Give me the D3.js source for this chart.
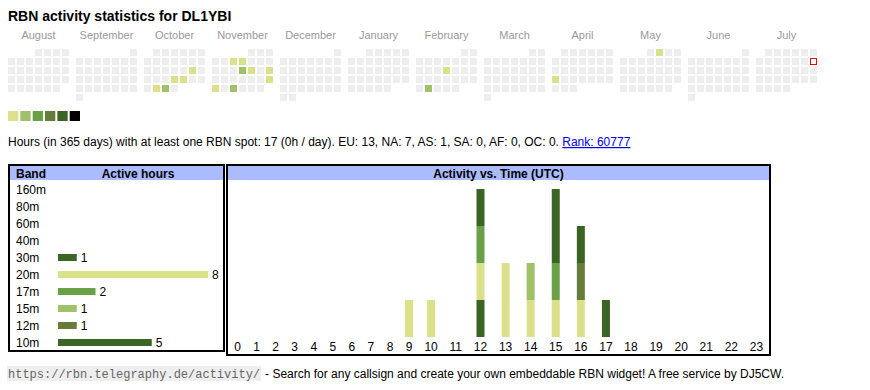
<!DOCTYPE html>
<html>
<head>
<meta charset="utf-8">
<script src="https://cdn.jsdelivr.net/npm/d3@7"></script>
<style>
  html, body { margin: 0; padding: 0; background: #fff; }
  svg { display: block; }
  text { font-family: Arial, "Liberation Sans", sans-serif; }
</style>
</head>
<body>
<svg id="chart" width="870" height="390"></svg>
<script>
// ---------------- DATA ----------------
const titleText = "RBN activity statistics for DL1YBI";
const monthLabels = ["August","September","October","November","December","January","February","March","April","May","June","July"];
const firstMonth = "2024-08-01";
const todayDate = "2025-07-13";
// active days in calendar and their level (1..6)
const activeDates  = ["2024-10-19","2024-10-24","2024-10-25","2024-10-29","2024-10-30",
                      "2024-11-06","2024-11-07","2024-11-14","2024-11-15","2024-11-17",
                      "2024-11-24","2024-11-25","2024-11-27",
                      "2025-02-13","2025-02-25","2025-04-21","2025-05-02"];
const activeLevels = [1,1,1,1,2, 1,1,2,1,1, 1,1,2, 1,2,1,1];
const legendLevels = [1,2,3,4,5,6];

const summaryText = "Hours (in 365 days) with at least one RBN spot: 17 (0h / day). EU: 13, NA: 7, AS: 1, SA: 0, AF: 0, OC: 0. ";
const rankText = "Rank: 60777";

const bands = ["160m","80m","60m","40m","30m","20m","17m","15m","12m","10m"];
const bandHours = [0,0,0,0,1,8,2,1,1,5];

const hourLabels = ["0","1","2","3","4","5","6","7","8","9","10","11","12","13","14","15","16","17","18","19","20","21","22","23"];
// activity per hour (UTC) for each band with spots
const act30m = [0,0,0,0,0,0,0,0,0,0,0,0,1,0,0,0,0,0,0,0,0,0,0,0];
const act20m = [0,0,0,0,0,0,0,0,0,1,1,0,1,2,1,1,1,0,0,0,0,0,0,0];
const act17m = [0,0,0,0,0,0,0,0,0,0,0,0,1,0,0,1,0,0,0,0,0,0,0,0];
const act15m = [0,0,0,0,0,0,0,0,0,0,0,0,0,0,1,0,0,0,0,0,0,0,0,0];
const act12m = [0,0,0,0,0,0,0,0,0,0,0,0,0,0,0,0,1,0,0,0,0,0,0,0];
const act10m = [0,0,0,0,0,0,0,0,0,0,0,0,1,0,0,2,1,1,0,0,0,0,0,0];

const footerCode = "https://rbn.telegraphy.de/activity/";
const footerText = "- Search for any callsign and create your own embeddable RBN widget! A free service by DJ5CW.";

// ---------------- STYLE ----------------
const palette = ["#dbe18b","#9ec16a","#6aa147","#687c3a","#3b6525","#000000"];
const bandColor = d3.scaleOrdinal()
  .domain(["30m","20m","17m","15m","12m","10m"])
  .range([palette[4], palette[0], palette[2], palette[1], palette[3], palette[4]]);
const levelColor = d3.scaleOrdinal().domain(legendLevels).range(palette);
const headerBlue = "#aabbff";

const svg = d3.select("#chart");
const parse = d3.timeParse("%Y-%m-%d");
const fmt = d3.timeFormat("%Y-%m-%d");

// ---------------- TITLE ----------------
svg.append("text").attr("x", 8).attr("y", 21)
  .attr("font-size", 14).attr("font-weight", "bold").attr("fill", "#000")
  .text(titleText);

// ---------------- CALENDAR ----------------
const start = parse(firstMonth);
const months = d3.timeMonth.range(start, d3.timeMonth.offset(start, 12));
const xMonth = d3.scaleBand().domain(d3.range(12)).range([8, 817]).paddingInner(7/68);
const xDay = d3.scaleBand().domain(d3.range(7)).range([0, 61]).paddingInner(2/9);
const yWeek = d3.scaleBand().domain(d3.range(6)).range([49, 101]).paddingInner(2/9);
const activeMap = new Map(activeDates.map((d, i) => [d, activeLevels[i]]));

const cal = svg.append("g");
months.forEach((m, i) => {
  cal.append("text")
    .attr("x", xMonth(i) + xMonth.bandwidth() / 2).attr("y", 39)
    .attr("text-anchor", "middle").attr("font-size", 11).attr("fill", "#999")
    .text(monthLabels[i]);
  const days = d3.timeDay.range(m, d3.timeMonth.offset(m, 1));
  cal.selectAll(null).data(days).enter().append("rect")
    .attr("x", d => xMonth(i) + xDay((d.getDay() + 6) % 7))
    .attr("y", d => yWeek(d3.timeMonday.count(m, d)))
    .attr("width", xDay.bandwidth()).attr("height", yWeek.bandwidth())
    .attr("fill", d => activeMap.has(fmt(d)) ? levelColor(activeMap.get(fmt(d))) : "#eeeeee");
});
// today marker
const today = parse(todayDate);
const tm = d3.timeMonth.floor(today);
const ti = months.findIndex(m => +m === +tm);
cal.append("rect")
  .attr("x", xMonth(ti) + xDay((today.getDay() + 6) % 7) + 0.5)
  .attr("y", yWeek(d3.timeMonday.count(tm, today)) + 0.5)
  .attr("width", xDay.bandwidth() - 1).attr("height", yWeek.bandwidth() - 1)
  .attr("fill", "#fff").attr("stroke", "#ff0000").attr("stroke-width", 1);

// legend
const xLeg = d3.scaleBand().domain(legendLevels).range([8, 80]).paddingInner(2/12);
svg.selectAll(null).data(legendLevels).enter().append("rect")
  .attr("x", d => xLeg(d)).attr("y", 111)
  .attr("width", xLeg.bandwidth()).attr("height", 10)
  .attr("fill", d => levelColor(d));

// summary line
const sum = svg.append("text").attr("x", 8).attr("y", 146).attr("font-size", 12).attr("fill", "#000")
  .style("white-space", "pre");
sum.append("tspan").text(summaryText);
sum.append("tspan").attr("fill", "#0000ee").attr("text-decoration", "underline").text(rankText);

// ---------------- BAND TABLE ----------------
const bt = svg.append("g");
bt.append("rect").attr("x", 10).attr("y", 166).attr("width", 213).attr("height", 14).attr("fill", headerBlue);
bt.append("rect").attr("x", 9).attr("y", 165).attr("width", 215).attr("height", 186)
  .attr("fill", "none").attr("stroke", "#000").attr("stroke-width", 2);
bt.append("text").attr("x", 16).attr("y", 177.5).attr("font-size", 12).attr("font-weight", "bold").text("Band");
bt.append("text").attr("x", 138).attr("y", 177.5).attr("font-size", 12).attr("font-weight", "bold")
  .attr("text-anchor", "middle").text("Active hours");

const yBand = d3.scaleBand().domain(bands).range([181, 351]);
const xHours = d3.scaleLinear().domain([0, d3.max(bandHours)]).range([0, 150]);
const rows = bt.selectAll(null).data(bands).enter().append("g")
  .attr("transform", b => `translate(0,${yBand(b) + yBand.bandwidth() / 2})`);
rows.append("text").attr("x", 16).attr("y", 4.3).attr("font-size", 12).text(b => b);
rows.filter((b, i) => bandHours[i] > 0).append("rect")
  .attr("x", 58).attr("y", -3.5).attr("height", 7)
  .attr("width", b => xHours(bandHours[bands.indexOf(b)]))
  .attr("fill", b => bandColor(b));
rows.filter((b, i) => bandHours[i] > 0).append("text")
  .attr("x", b => 58 + xHours(bandHours[bands.indexOf(b)]) + 4).attr("y", 4.3)
  .attr("font-size", 12).text(b => bandHours[bands.indexOf(b)]);

// ---------------- ACTIVITY VS TIME ----------------
const at = svg.append("g");
at.append("rect").attr("x", 228).attr("y", 166).attr("width", 541).attr("height", 14).attr("fill", headerBlue);
at.append("rect").attr("x", 227).attr("y", 165).attr("width", 543).attr("height", 190)
  .attr("fill", "none").attr("stroke", "#000").attr("stroke-width", 2);
at.append("text").attr("x", 498.5).attr("y", 177.5).attr("font-size", 12).attr("font-weight", "bold")
  .attr("text-anchor", "middle").text("Activity vs. Time (UTC)");

// table-like column widths: text width + padding, fitted to inner width
const meas = svg.append("text").attr("font-size", 12);
const widths = hourLabels.map(l => { meas.text(l); return meas.node().getComputedTextLength() + 14.4; });
meas.remove();
const totalW = d3.sum(widths);
const k = 541 / totalW;
const centers = [];
let acc = 228;
widths.forEach(w => { centers.push(acc + w * k / 2); acc += w * k; });
const xHour = d3.scaleOrdinal().domain(hourLabels).range(centers);

const yAct = d3.scaleLinear().domain([0, 4]).range([337, 189]);
const table = hourLabels.map((h, i) => ({
  hour: h, "30m": act30m[i], "20m": act20m[i], "17m": act17m[i],
  "15m": act15m[i], "12m": act12m[i], "10m": act10m[i]
}));
const stack = d3.stack().keys(["30m","20m","17m","15m","12m","10m"])(table);
at.selectAll(null).data(stack).enter().append("g")
  .attr("fill", s => bandColor(s.key))
  .selectAll("rect").data(s => s.filter(d => d[1] > d[0])).enter().append("rect")
  .attr("x", d => xHour(d.data.hour) - 4).attr("width", 8)
  .attr("y", d => yAct(d[1])).attr("height", d => yAct(d[0]) - yAct(d[1]));

at.selectAll(null).data(hourLabels).enter().append("text")
  .attr("x", h => xHour(h)).attr("y", 351).attr("text-anchor", "middle")
  .attr("font-size", 12).text(h => h);

// ---------------- FOOTER ----------------
const codeBg = svg.append("rect").attr("x", 7).attr("y", 366).attr("height", 15).attr("fill", "#eeeeee");
const codeT = svg.append("text").attr("x", 8).attr("y", 378)
  .style("font-family", '"Liberation Mono", "DejaVu Sans Mono", monospace')
  .attr("font-size", 12).attr("fill", "#666").text(footerCode);
const cw = codeT.node().getComputedTextLength();
codeBg.attr("width", cw + 2);
svg.append("text").attr("x", 8 + cw + 5).attr("y", 378).attr("font-size", 12).attr("fill", "#000")
  .text(footerText);
</script>
</body>
</html>
